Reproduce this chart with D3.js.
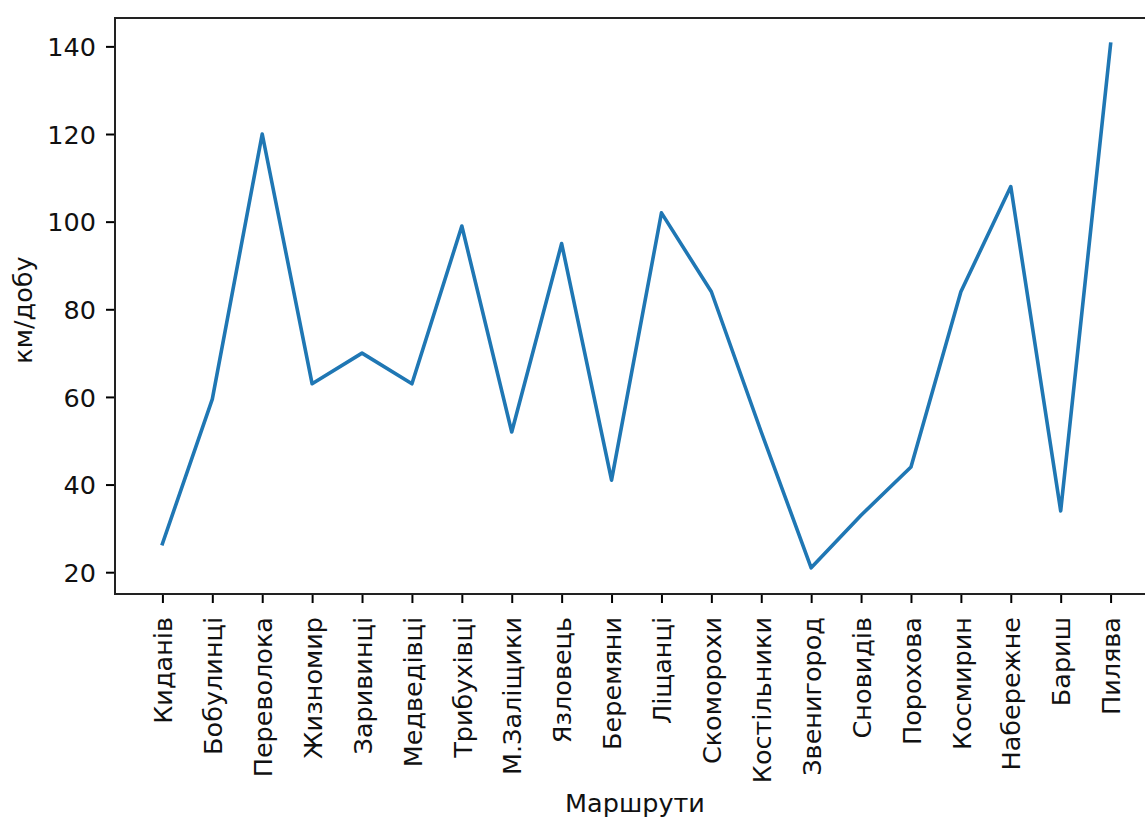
<!DOCTYPE html>
<html>
<head>
<meta charset="utf-8">
<script src="https://cdn.jsdelivr.net/npm/d3@7"></script>
<style>
  html, body { margin: 0; padding: 0; background: #fff; }
  svg { display: block; font-family: "DejaVu Sans", sans-serif; }
</style>
</head>
<body>
<svg id="chart" width="1145" height="817"></svg>
<script>
// Route names (x categories)
const routes = ["Киданів", "Бобулинці", "Переволока", "Жизномир", "Заривинці", "Медведівці",
  "Трибухівці", "М.Заліщики", "Язловець", "Беремяни", "Ліщанці", "Скоморохи", "Костільники",
  "Звенигород", "Сновидів", "Порохова", "Космирин", "Набережне", "Бариш", "Пилява"];
// Daily distance per route, km/day
const kmPerDay = [26.5, 59.5, 120, 63, 70, 63, 99, 52, 95, 41, 102, 84, 52, 21, 33, 44, 84, 108, 34, 140.5];
// Y axis tick values
const yTicks = [20, 40, 60, 80, 100, 120, 140];

const svg = d3.select("#chart");
const plot = { left: 115, top: 18, right: 1158, bottom: 594 };

// 5% padding around the data, on both axes
const n = routes.length;
const xPad = (n - 1) * 0.05;
const x = d3.scaleLinear().domain([-xPad, n - 1 + xPad]).range([plot.left, plot.right]);
const [yMin, yMax] = d3.extent(kmPerDay);
const yPad = (yMax - yMin) * 0.05;
const y = d3.scaleLinear().domain([yMin - yPad, yMax + yPad]).range([plot.bottom, plot.top]);

const fontSize = 25.5;
const tickLen = 9;
const textColor = "#111";

// Line
const line = d3.line().x((d, i) => x(i)).y(d => y(d));
svg.append("path")
  .datum(kmPerDay)
  .attr("fill", "none")
  .attr("stroke", "#1f77b4")
  .attr("stroke-width", 3.6)
  .attr("stroke-linejoin", "round")
  .attr("stroke-linecap", "square")
  .attr("d", line);

// Y axis
const yAxis = d3.axisLeft(y).tickValues(yTicks).tickSize(tickLen).tickPadding(10).tickSizeOuter(0);
const gy = svg.append("g").attr("transform", `translate(${plot.left},0)`).call(yAxis);
gy.select(".domain").remove();
gy.selectAll(".tick line").attr("stroke", "#000").attr("stroke-width", 2);
gy.selectAll(".tick text").attr("font-size", fontSize).attr("fill", textColor)
  .attr("font-family", "DejaVu Sans").attr("dy", "0.36em");

// X axis with rotated labels
const xAxis = d3.axisBottom(x).tickValues(d3.range(n)).tickFormat(i => routes[i])
  .tickSize(tickLen).tickSizeOuter(0);
const gx = svg.append("g").attr("transform", `translate(0,${plot.bottom})`).call(xAxis);
gx.select(".domain").remove();
gx.selectAll(".tick line").attr("stroke", "#000").attr("stroke-width", 2);
gx.selectAll(".tick text")
  .attr("font-size", fontSize).attr("fill", textColor).attr("font-family", "DejaVu Sans")
  .attr("transform", "rotate(-90)")
  .attr("x", -(tickLen + 14)).attr("y", 0).attr("dy", "0.36em")
  .attr("text-anchor", "end");

// Frame
svg.append("rect")
  .attr("x", plot.left).attr("y", plot.top)
  .attr("width", plot.right - plot.left).attr("height", plot.bottom - plot.top)
  .attr("fill", "none").attr("stroke", "#222").attr("stroke-width", 2);

// Axis titles
svg.append("text")
  .attr("x", 635).attr("y", 812)
  .attr("text-anchor", "middle").attr("font-size", fontSize).attr("fill", textColor)
  .text("Маршрути");
svg.append("text")
  .attr("transform", `translate(32,310) rotate(-90)`)
  .attr("text-anchor", "middle").attr("font-size", fontSize).attr("fill", textColor)
  .text("км/добу");
</script>
</body>
</html>
